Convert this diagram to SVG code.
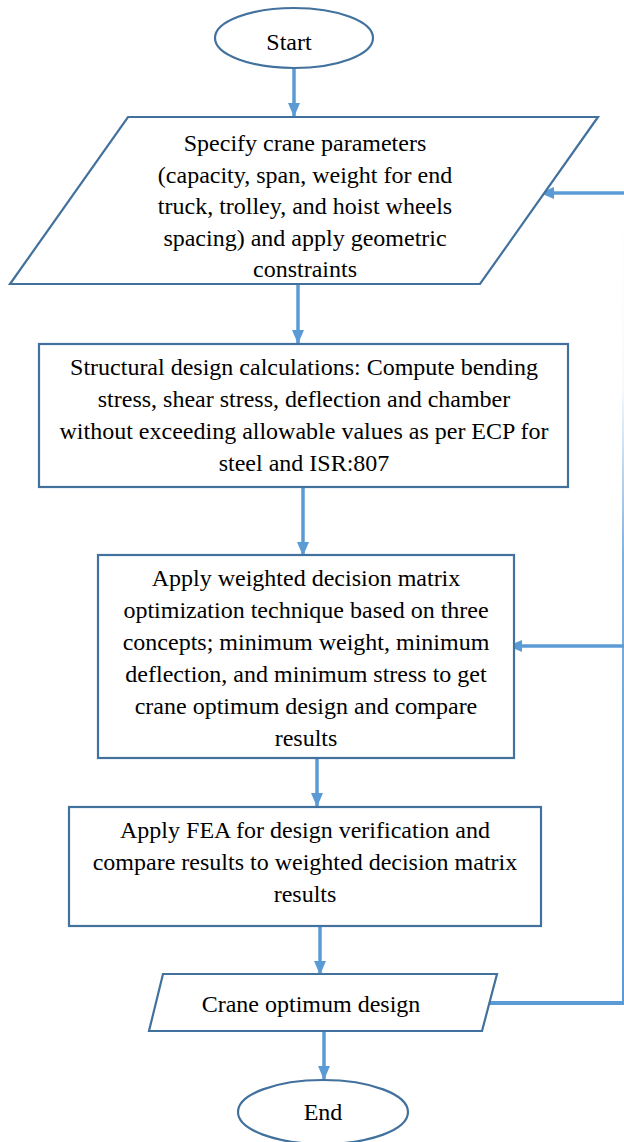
<svg xmlns="http://www.w3.org/2000/svg" width="624" height="1142" viewBox="0 0 624 1142">
<defs>
<marker id="ah" markerUnits="userSpaceOnUse" markerWidth="14" markerHeight="14" viewBox="0 0 14 14" refX="13" refY="7" orient="auto">
<path d="M0,1 L14,7 L0,13 Z" fill="#5B9BD5"/>
</marker>
<linearGradient id="vfade" gradientUnits="userSpaceOnUse" x1="0" y1="193" x2="0" y2="1005">
<stop offset="0" stop-color="#5B9BD5" stop-opacity="0"/>
<stop offset="0.24" stop-color="#5B9BD5" stop-opacity="0.05"/>
<stop offset="0.45" stop-color="#5B9BD5" stop-opacity="0.8"/>
<stop offset="1" stop-color="#5B9BD5" stop-opacity="1"/>
</linearGradient>
<style>
.shape{fill:#fff;stroke:#41719C;stroke-width:2.2}
text{font-family:"Liberation Serif",serif;font-size:24px;fill:#000;text-anchor:middle}
.c{fill:none;stroke:#5B9BD5;stroke-width:3.5}
.f{fill:none;stroke:#5B9BD5;stroke-width:4}
</style>
</defs>
<rect width="624" height="1142" fill="#fff"/>
<g id="connectors">
<line class="c" x1="294" y1="69" x2="294" y2="116" marker-end="url(#ah)"/>
<line class="c" x1="298" y1="285" x2="298" y2="343" marker-end="url(#ah)"/>
<line class="c" x1="303" y1="488" x2="303" y2="555" marker-end="url(#ah)"/>
<line class="c" x1="317" y1="759" x2="317" y2="806" marker-end="url(#ah)"/>
<line class="c" x1="320" y1="927" x2="320" y2="974" marker-end="url(#ah)"/>
<line class="c" x1="324" y1="1031" x2="324" y2="1079" marker-end="url(#ah)"/>
<line class="f" x1="490" y1="1003" x2="624" y2="1003"/>
<line stroke="url(#vfade)" stroke-width="2" x1="623" y1="193" x2="623" y2="1005"/>
<line class="c" x1="624" y1="646" x2="509" y2="646" marker-end="url(#ah)"/>
<line class="c" x1="624" y1="193" x2="541" y2="193" marker-end="url(#ah)"/>
</g>
<g id="start">
<ellipse class="shape" cx="294" cy="38" rx="79" ry="30"/>
<text x="289" y="50">Start</text>
</g>
<g id="input">
<polygon class="shape" points="128,117 598,117 480,284 10,284"/>
<text x="305" y="151">Specify crane parameters</text>
<text x="305" y="182.5">(capacity, span, weight for end</text>
<text x="305" y="214">truck, trolley, and hoist wheels</text>
<text x="305" y="245.5">spacing) and apply geometric</text>
<text x="305" y="277">constraints</text>
</g>
<g id="structural">
<rect class="shape" x="39" y="344" width="529" height="143"/>
<text x="304" y="375">Structural design calculations: Compute bending</text>
<text x="304" y="407">stress, shear stress, deflection and chamber</text>
<text x="304" y="439">without exceeding allowable values as per ECP for</text>
<text x="304" y="471">steel and ISR:807</text>
</g>
<g id="matrix">
<rect class="shape" x="98" y="555" width="416" height="203"/>
<text x="306" y="586">Apply weighted decision matrix</text>
<text x="306" y="618">optimization technique based on three</text>
<text x="306" y="650">concepts; minimum weight, minimum</text>
<text x="306" y="682">deflection, and minimum stress to get</text>
<text x="306" y="714">crane optimum design and compare</text>
<text x="306" y="746">results</text>
</g>
<g id="fea">
<rect class="shape" x="69" y="807" width="472" height="119"/>
<text x="305" y="838">Apply FEA for design verification and</text>
<text x="305" y="870">compare results to weighted decision matrix</text>
<text x="305" y="902">results</text>
</g>
<g id="output">
<polygon class="shape" points="163,974 497,974 482,1031 149,1031"/>
<text x="311" y="1012">Crane optimum design</text>
</g>
<g id="end">
<ellipse class="shape" cx="323" cy="1112" rx="85" ry="32"/>
<text x="323" y="1120">End</text>
</g>
</svg>
